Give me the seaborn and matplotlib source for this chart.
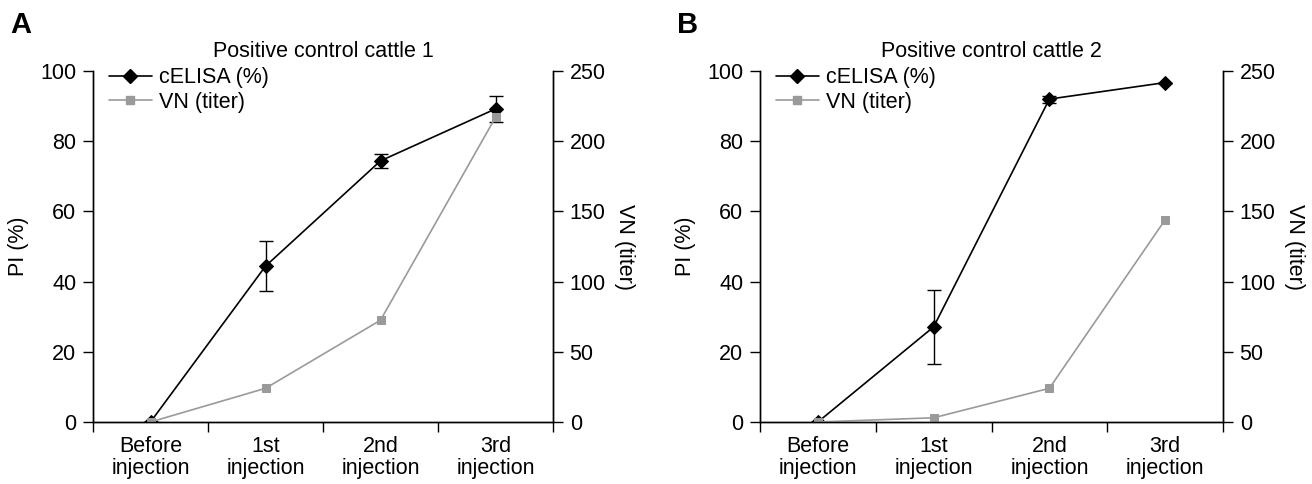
import numpy as np
import pandas as pd
import matplotlib
matplotlib.use("Agg")
import matplotlib.pyplot as plt
from matplotlib.lines import Line2D
import seaborn as sns

# Data
stages = ["Before\ninjection", "1st\ninjection", "2nd\ninjection", "3rd\ninjection"]
celisa_1 = [0, 44.4, 74.4, 89.2]
celisa_1_err = [0, 7.1, 1.9, 3.7]
vn_1 = [0, 24, 72.5, 217]
celisa_2 = [0, 27.1, 92.0, 96.7]
celisa_2_err = [0, 10.6, 1.0, 0]
vn_2 = [0, 3, 24, 144]
titles = ["Positive control cattle 1", "Positive control cattle 2"]
panel_labels = ["A", "B"]

sns.set_style("ticks")
plt.rcParams["font.family"] = ["Liberation Sans", "DejaVu Sans"]
plt.rcParams["font.size"] = 15.5
for k in ("text.color", "axes.labelcolor", "xtick.color", "ytick.color", "axes.edgecolor"):
    plt.rcParams[k] = "black"

BLACK = "#000000"
GRAY = "#9a9a9a"

fig = plt.figure(figsize=(13.12, 4.84), dpi=100)
boxes = [[93 / 1312, 62 / 484, 460 / 1312, 351 / 484],
         [760 / 1312, 62 / 484, 463 / 1312, 351 / 484]]


def draw_panel(box, celisa, err, vn, title, label):
    ax = fig.add_axes(box)
    pos = np.arange(len(stages))
    df = pd.DataFrame({"pos": pos, "celisa": celisa, "vn": vn})

    ax.errorbar(pos, celisa, yerr=err, fmt="none", ecolor=BLACK,
                elinewidth=1, capsize=5, capthick=1, zorder=2)
    sns.lineplot(data=df, x="pos", y="celisa", ax=ax, color=BLACK, lw=1.2,
                 marker="D", markersize=7, markeredgecolor=BLACK, zorder=3)
    ax.set_ylim(0, 100)
    ax.set_yticks(np.arange(0, 101, 20))
    ax.set_xlim(-0.5, 3.5)
    ax.set_xticks(pos)
    ax.set_xticklabels(stages, linespacing=1.1)
    ax.set_xticks(np.arange(-0.5, 4, 1), minor=True)
    ax.tick_params(axis="x", which="major", length=0, pad=10)
    ax.tick_params(axis="x", which="minor", length=7, width=1, direction="out")
    ax.tick_params(axis="y", length=7, width=1, direction="out", pad=5)
    ax.set_xlabel("")
    ax.set_ylabel("PI (%)", labelpad=8)
    ax.spines["top"].set_visible(False)

    ax2 = ax.twinx()
    sns.lineplot(data=df, x="pos", y="vn", ax=ax2, color=GRAY, lw=1.2,
                 marker="s", markersize=6, markeredgecolor=GRAY)
    ax2.set_ylim(0, 250)
    ax2.set_yticks(np.arange(0, 251, 50))
    ax2.tick_params(axis="y", length=7, width=1, direction="out", pad=5)
    ax2.set_ylabel("VN (titer)", rotation=270, labelpad=6, va="bottom")
    ax2.spines["top"].set_visible(False)
    for a in (ax, ax2):
        for s in a.spines.values():
            s.set_linewidth(1)

    handles = [Line2D([], [], color=BLACK, marker="D", markersize=7, lw=1.2),
               Line2D([], [], color=GRAY, marker="s", markersize=6, lw=1.2)]
    ax2.legend(handles, ["cELISA (%)", "VN (titer)"], loc="upper left",
               frameon=False, handlelength=2.0, handletextpad=0.35,
               borderaxespad=0.0, labelspacing=0.15,
               bbox_to_anchor=(0.015, 1.035), fontsize=15.5)
    ax.set_title(title, fontsize=15.5, pad=10)
    ax.text(-0.18, 1.13, label, transform=ax.transAxes, fontsize=21,
            fontweight="bold", va="center", ha="left")


draw_panel(boxes[0], celisa_1, celisa_1_err, vn_1, titles[0], panel_labels[0])
draw_panel(boxes[1], celisa_2, celisa_2_err, vn_2, titles[1], panel_labels[1])

fig.savefig("out.png", dpi=100)
